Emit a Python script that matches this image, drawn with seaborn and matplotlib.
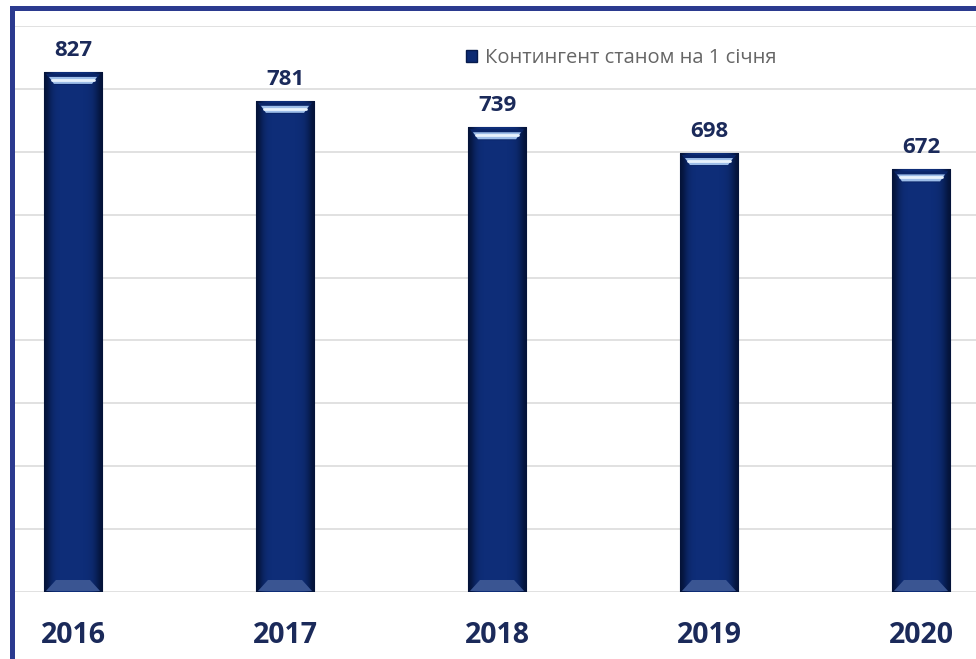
import numpy as np
import pandas as pd
import matplotlib
matplotlib.use("Agg")
import matplotlib.pyplot as plt
from matplotlib.patches import Polygon, Patch, Rectangle
from matplotlib.lines import Line2D
from matplotlib.colors import LinearSegmentedColormap
import seaborn as sns

years = ["2016", "2017", "2018", "2019", "2020"]
values = [827, 781, 739, 698, 672]
series_name = "Контингент станом на 1 січня"

df = pd.DataFrame({"year": years, "value": values})

sns.set_theme(style="white")
plt.rcParams["font.family"] = ["Open Sans", "DejaVu Sans"]

W, H = 976, 659
fig = plt.figure(figsize=(W / 100, H / 100), dpi=100)
fig.patch.set_facecolor("white")
ax = fig.add_axes([15 / W, (H - 592) / H, 1 - 15 / W, (592 - 26) / H])

bar_color = "#0c2a72"
sns.barplot(data=df, x="year", y="value", color=bar_color, width=0.274,
            saturation=1, ax=ax, zorder=3)

ax.set_ylim(0, 900)
ax.set_xlim(-58 / 212, (976 - 73) / 212)
ax.set_yticks(np.arange(0, 901, 100))
ax.yaxis.grid(True, color="#dcdcdc", linewidth=1.2, zorder=0)
ax.set_axisbelow(True)
ax.set_yticklabels([])
ax.tick_params(axis="y", length=0)
ax.tick_params(axis="x", length=0, pad=21, labelsize=20.5, labelcolor="#1b2a5a")
for t in ax.get_xticklabels():
    t.set_fontweight("bold")
ax.set_xlabel("")
ax.set_ylabel("")
for s in ax.spines.values():
    s.set_visible(False)

# value labels
ax.bar_label(ax.containers[0], labels=[str(v) for v in values], padding=8,
             fontsize=16, fontweight="bold", color="#1b2a5a")

# bevel / gradient styling based on bar geometry
px_x = 1 / 212
px_y = 900 / 566
grad = np.array([[0.0, 0.6, 0.9, 1.0, 1.0, 1.0, 1.0, 1.0, 1.0, 1.0, 0.95, 0.85, 0.5, 0.0]])
cmap = LinearSegmentedColormap.from_list("barg", ["#041338", "#0e2d78"])
for p in list(ax.patches):
    x0, y0 = p.get_x(), p.get_y()
    w, h = p.get_width(), p.get_height()
    x1, top = x0 + w, y0 + h
    im = ax.imshow(grad, extent=[x0, x1, y0, top], aspect="auto", cmap=cmap,
                   interpolation="bicubic", zorder=3.5)
    im.set_clip_path(p)
    p.set_edgecolor("#061a4c")
    p.set_linewidth(0.8)
    # top bevel
    d = 10 * px_x
    tp = Polygon([(x0 + 2 * px_x, top - 2 * px_y), (x1 - 2 * px_x, top - 2 * px_y),
                  (x1 - d, top - 13 * px_y), (x0 + d, top - 13 * px_y)],
                 closed=True, facecolor="#0a2568", edgecolor="none", zorder=4)
    ax.add_patch(tp)
    hl = Polygon([(x0 + 5 * px_x, top - 5 * px_y), (x1 - 5 * px_x, top - 5 * px_y),
                  (x1 - d, top - 12 * px_y), (x0 + d, top - 12 * px_y)],
                 closed=True, facecolor="#9dbde8", edgecolor="none", zorder=4.1)
    ax.add_patch(hl)
    ax.add_line(Line2D([x0 + 8 * px_x, x1 - 8 * px_x], [top - 8 * px_y, top - 8 * px_y],
                       color="#e8f2fc", linewidth=2.0, zorder=4.2))
    # bottom bevel
    bp = Polygon([(x0 + 2 * px_x, y0 + 1 * px_y), (x1 - 2 * px_x, y0 + 1 * px_y),
                  (x1 - 12 * px_x, y0 + 12 * px_y), (x0 + 12 * px_x, y0 + 12 * px_y)],
                 closed=True, facecolor="#3a5592", edgecolor="none", zorder=4)
    ax.add_patch(bp)

# legend
handle = Patch(facecolor=bar_color, edgecolor="#061a4c", label=series_name)
leg = ax.legend(handles=[handle], loc="center left",
                bbox_to_anchor=((466 - 15) / (W - 15), (592 - 58) / (592 - 26)),
                frameon=False, fontsize=14.5, handlelength=0.55, handleheight=0.55,
                handletextpad=0.4, borderpad=0, borderaxespad=0)
for t in leg.get_texts():
    t.set_color("#666666")

# outer frame
frame_color = "#2b3a8f"
fig.add_artist(Rectangle((10 / W, 0), 5 / W, (H - 6) / H, transform=fig.transFigure,
                         facecolor=frame_color, edgecolor="none", zorder=10))
fig.add_artist(Rectangle((10 / W, (H - 11) / H), 1 - 10 / W, 5 / H,
                         transform=fig.transFigure,
                         facecolor=frame_color, edgecolor="none", zorder=10))

fig.savefig("out.png", dpi=100, facecolor="white")
